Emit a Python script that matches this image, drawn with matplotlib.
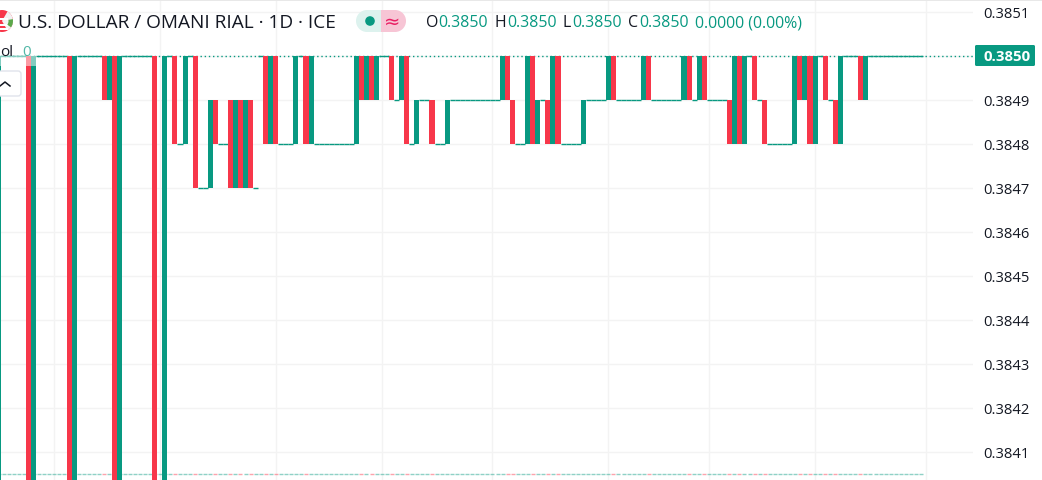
#!/usr/bin/env python3
# -*- coding: utf-8 -*-
import matplotlib
matplotlib.use("Agg")
import matplotlib.pyplot as plt
from matplotlib.patches import Circle, FancyBboxPatch, Rectangle, Wedge

plt.rcParams['font.family'] = ['Open Sans', 'DejaVu Sans']

GREEN = '#089981'
RED = '#F7374A'
TEXT = '#131722'
GRID = '#F3F3F3'

# price levels seen on the chart, L sits below the visible range
A = 0.3850
B = 0.3849
C = 0.3848
D = 0.3847
L = 0.3839

first_bar = -6
opens = [
    L, A, A, A, A, A, A, L, A, A, A, A, A, A, A, L,
    A, A, A, A, A, A, B, A, L, A, A, A, A, A, A,
    A, L, L, A, A, C, C, A, A, D, D, D, B, C, C,
    B, D, B, D, B, D, A, A, C, A, C, C, C, C, A,
    A, C, C, C, C, C, C, C, C, C, C,
    A, B, A, B, A, A, A, B, B, A, C, C, B, B, B, C, C, C,
    B, B, B, B, B, B, B, B, B, B, B,
    A, B, C, C, C, A, C, B, B, C, A, C, C, C, C, C,
    B, B, B, B, B, A, B, B, B, B, B, B, A, B, B, B, B, B, B,
    B, A, B, B, A, B, B, B, B, B, C, A, C, A, A, B, B,
    C, C, C, C, C, C, A, B, A, C, A, A, B, B, C, A, A, A,
    A, B, A, A, A, A, A, A, A, A, A, A, A,
]
closes = [
    A, A, A, A, A, A, L, A, A, A, A, A, A, A, L, A,
    A, A, A, A, A, B, A, L, A, A, A, A, A, A, A,
    L, L, A, A, C, C, A, A, D, D, D, B, C, C, C,
    D, B, D, B, D, D, A, C, A, C, C, C, C, A, A,
    C, A, C, C, C, C, C, C, C, C, A,
    B, A, B, A, A, A, B, B, A, C, C, B, B, B, C, C, C, B,
    B, B, B, B, B, B, B, B, B, B, A,
    B, C, C, C, A, C, B, B, C, A, C, C, C, C, C, B,
    B, B, B, B, A, B, B, B, B, B, B, A, B, B, B, B, B, B, B,
    A, B, B, A, B, B, B, B, B, C, A, C, A, A, B, B, C,
    C, C, C, C, C, A, B, A, C, A, A, B, B, C, A, A, A, A,
    B, A, A, A, A, A, A, A, A, A, A, A, A,
]
volume_level = 0.38405

price_ticks = [0.3851, 0.3850, 0.3849, 0.3848, 0.3847, 0.3846,
               0.3845, 0.3844, 0.3843, 0.3842, 0.3841]
price_labels = ['0.3851', '', '0.3849', '0.3848', '0.3847', '0.3846',
                '0.3845', '0.3844', '0.3843', '0.3842', '0.3841']
time_ticks = [5, 26, 49, 70, 92, 115, 135, 156, 178]

title = 'U.S. DOLLAR / OMANI RIAL · 1D · ICE'
ohlc_names = ['O', 'H', 'L', 'C']
ohlc_values = ['0.3850', '0.3850', '0.3850', '0.3850']
change_text = '0.0000 (0.00%)'
last_price = '0.3850'

W, H = 1042, 481

fig = plt.figure(figsize=(W / 100, H / 100), dpi=100, facecolor='white')
ax = fig.add_axes([0, 0, 973 / W, 1])

# one bar is 5.04 px, bar 0 is centred on px 28.8
ax.set_xlim(-28.8 / 5.04, (973 - 28.8) / 5.04)
ax.set_ylim(A - 424.5 / 44 * 0.0001, A + 56.5 / 44 * 0.0001)
for s in ax.spines.values():
    s.set_visible(False)
ax.yaxis.tick_right()
ax.set_yticks(price_ticks)
ax.set_yticklabels(price_labels, fontsize=10.6, color=TEXT)
ax.tick_params(axis='y', length=0, pad=7.5)
ax.set_xticks(time_ticks)
ax.set_xticklabels([])
ax.tick_params(axis='x', length=0)
ax.grid(True, color=GRID, linewidth=1)
ax.set_axisbelow(True)

ax.axhline(A, color=GREEN, linewidth=1, linestyle=(0, (1, 2)), zorder=1)

for i, (o, c) in enumerate(zip(opens, closes)):
    x = first_bar + i
    col = RED if c < o else GREEN
    # zero volume bars along the bottom
    ax.hlines(volume_level, x - 0.4, x + 0.4, color=col, alpha=0.45,
              linewidth=1, zorder=1.5)
    if o == c:
        ax.hlines(c, x - 0.5, x + 0.5, color=GREEN, linewidth=1, zorder=2)
    else:
        ax.bar(x, abs(c - o), bottom=min(o, c), width=1.0, color=col,
               linewidth=0, zorder=3)

# header and widgets are laid out in pixels on top of the chart
ov = fig.add_axes([0, 0, 1, 1], facecolor='none')
ov.set_xlim(0, W)
ov.set_ylim(H, 0)
ov.axis('off')

ov.add_patch(Rectangle((0, 0), W, 2, color='#E8E8E8', linewidth=0))

# flag icon
ov.add_patch(Circle((2, 22), 11, color=RED, linewidth=0))
ov.add_patch(Wedge((2, 22), 11, 300, 60, color='#F2F2F2', linewidth=0))
for y0 in [19, 24.5, 29]:
    ov.add_patch(Rectangle((-6, y0), 14, 2, color='white', linewidth=0))
ov.add_patch(Wedge((2, 22), 11, 350, 35, width=4.5, color='#5CA84B', linewidth=0))

ov.text(18, 23, title, fontsize=13.66, color=TEXT, va='center', ha='left')

# status pill
ov.add_patch(Circle((367, 22), 11, color='#DDF2EE', linewidth=0))
ov.add_patch(Rectangle((367, 11), 14, 22, color='#DDF2EE', linewidth=0))
ov.add_patch(Circle((395, 22), 11, color='#F7C5D5', linewidth=0))
ov.add_patch(Rectangle((381, 11), 14, 22, color='#F7C5D5', linewidth=0))
ov.add_patch(Circle((370, 22), 4.8, color=GREEN, linewidth=0))
ov.text(392, 22, '≈', fontsize=14, color='#E91E63', ha='center', va='center',
        family=['DejaVu Sans'])

# OHLC values
name_x = [426, 495, 563, 628]
value_x = [438, 507, 572, 639]
for nm, vl, nx, vx in zip(ohlc_names, ohlc_values, name_x, value_x):
    ov.text(nx, 23, nm, fontsize=11.4, color=TEXT, va='center', ha='left')
    ov.text(vx, 23, vl, fontsize=11.4, color=GREEN, va='center', ha='left')
ov.text(695, 23, change_text, fontsize=11.4, color=GREEN, va='center', ha='left')

# volume legend and collapse button
ov.add_patch(Rectangle((0, 57), 36, 10, color='white', alpha=0.5, linewidth=0))
ov.text(0, 52, 'ol', fontsize=11, color=TEXT, va='center', ha='left')
ov.text(22, 52, '0', fontsize=11, color=GREEN, alpha=0.7, va='center', ha='left')
ov.add_patch(FancyBboxPatch((-8, 72), 29, 25, boxstyle='round,pad=0,rounding_size=3',
                            facecolor='white', edgecolor='#E0E3EB', linewidth=1))
ov.plot([0, 5, 10], [87, 83, 87], color=TEXT, linewidth=1.1)

# last price tag
ov.add_patch(FancyBboxPatch((975, 46), 60, 21, boxstyle='round,pad=0,rounding_size=1.5',
                            color=GREEN, linewidth=0))
ov.text(1007, 57, last_price, fontsize=10.8, color='white', fontweight='bold',
        va='center', ha='center')

fig.savefig('out.png', dpi=100)
